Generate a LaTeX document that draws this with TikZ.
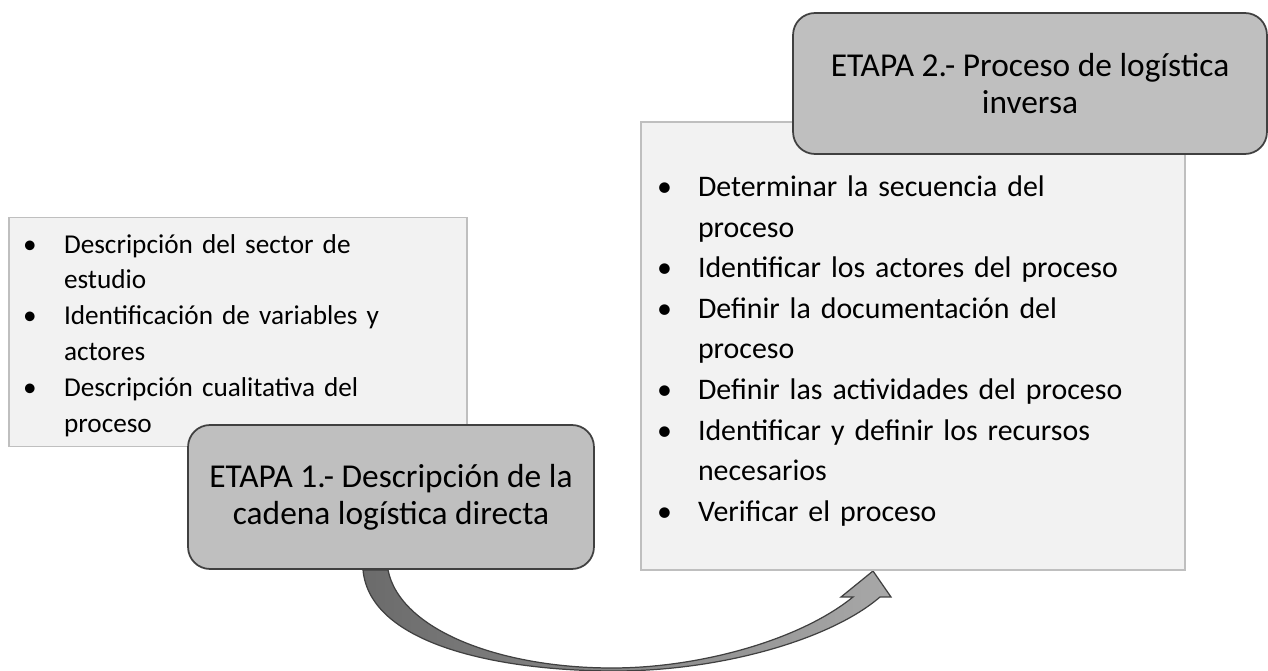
\documentclass[tikz,border=0pt]{standalone}
\usepackage{fontspec}
\setmainfont{Carlito}
\usetikzlibrary{positioning}
\definecolor{fondolista}{HTML}{F2F2F2}
\definecolor{bordelista}{HTML}{BFBFBF}
\definecolor{fondoetapa}{HTML}{BFBFBF}
\definecolor{bordeetapa}{HTML}{404040}
\definecolor{flechaizq}{HTML}{6B6B6B}
\definecolor{flechader}{HTML}{A8A8A8}
\newlength{\sangria}
\newcommand{\vineta}[1]{\par\hangindent=\sangria\hangafter=1\noindent\makebox[\sangria][l]{\textbullet}#1}
\tikzset{
  lista/.style={draw=bordelista, fill=fondolista, line width=0.8pt, align=left, inner ysep=0pt},
  etapa/.style={draw=bordeetapa, fill=fondoetapa, line width=1pt, rounded corners=0.44cm,
    align=center, font=\fontsize{19}{21}\selectfont},
  flecha/.style={draw=bordeetapa, line width=0.7pt, left color=flechaizq, right color=flechader}
}
\begin{document}
\begin{tikzpicture}[x=0.02cm, y=-0.02cm]
  \useasboundingbox (0,0) rectangle (1268,671);
  % flecha curva
  \draw[flecha] (363,570) .. controls (370,645) and (500,671) .. (615,671)
    .. controls (720,671) and (830,640) .. (880,597) -- (891,597) -- (873,571) -- (841,597) -- (853,597)
    .. controls (800,640) and (700,668) .. (612,668) .. controls (500,668) and (400,630) .. (388,570) -- cycle;
  % etapa 1
  \node[lista, minimum width=9.16cm, minimum height=4.56cm, text width=8.6cm, inner xsep=0.28cm,
    font=\fontsize{15.5}{20.4}\selectfont] (lista1) at (238,332)
    {\setlength{\sangria}{0.82cm}%
     \vineta{Descripción del sector de\break estudio}
     \vineta{Identificación de variables y\break actores}
     \vineta{Descripción cualitativa del\break proceso}\par\kern0.2cm};
  \node[etapa, minimum width=8.12cm, minimum height=2.88cm] (etapa1) at (391,497)
    {ETAPA 1.- Descripción de la\\cadena logística directa};
  % etapa 2
  \node[lista, minimum width=10.88cm, minimum height=8.96cm, text width=10.24cm, inner xsep=0.32cm,
    font=\fontsize{17}{23.1}\selectfont] (lista2) at (913,346)
    {\setlength{\sangria}{0.82cm}%
     \vineta{Determinar la secuencia del\break proceso}
     \vineta{Identificar los actores del proceso}
     \vineta{Definir la documentación del\break proceso}
     \vineta{Definir las actividades del proceso}
     \vineta{Identificar y definir los recursos\break necesarios}
     \vineta{Verificar el proceso}\par\kern0.2cm};
  \node[etapa, minimum width=9.48cm, minimum height=2.82cm] (etapa2) at (1030,83.5)
    {ETAPA 2.- Proceso de logística\\inversa};
\end{tikzpicture}
\end{document}
